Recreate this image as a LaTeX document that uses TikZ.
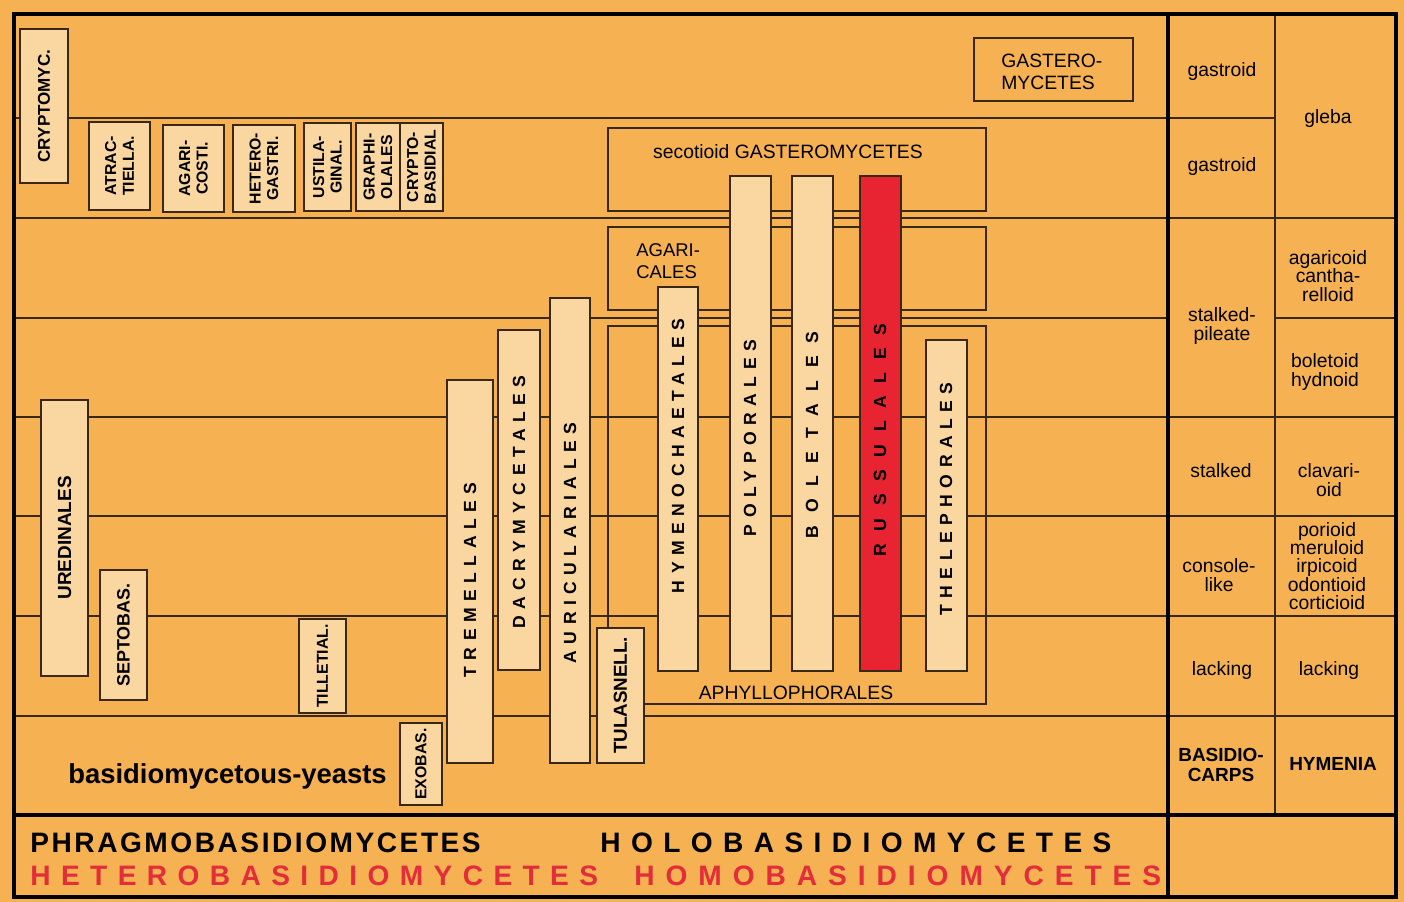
\documentclass[tikz,border=0pt]{standalone}
\usepackage{fontspec}
\setmainfont{Liberation Sans}
\usetikzlibrary{fit}
\definecolor{bg}{RGB}{246,177,82}
\definecolor{barc}{RGB}{250,214,160}
\definecolor{redc}{RGB}{232,36,50}
\definecolor{linec}{RGB}{58,40,22}
\definecolor{redtxt}{RGB}{226,46,58}
\begin{document}
\begin{tikzpicture}[x=0.02cm, y=0.02cm,
  rowline/.style={draw=linec, line width=0.9pt},
  heavy/.style={draw=black, line width=2.3pt},
  group/.style={draw=linec, line width=0.9pt, inner sep=0pt},
  bar/.style={draw=linec, line width=0.9pt, fill=barc, inner sep=0pt},
  redbar/.style={bar, fill=redc},
  vlab/.style={rotate=90, inner sep=0pt, font=\bfseries\fontsize{10}{10}\selectfont\addfontfeature{LetterSpace=37}},
  widelab/.style={vlab, font=\bfseries\fontsize{10}{10}\selectfont\addfontfeature{LetterSpace=72}},
  sbox/.style 2 args={bar, rotate=90, minimum width=#1*0.02cm, minimum height=#2*0.02cm, align=center, font=\bfseries\fontsize{9}{10}\selectfont},
  txt/.style={inner sep=0pt, align=center, font=\fontsize{11}{10.5}\selectfont},
  btxt/.style={txt, font=\bfseries\fontsize{10.8}{11}\selectfont},
  bigtxt/.style={inner sep=0pt, anchor=base west, font=\bfseries\fontsize{16}{16}\selectfont}]
\fill[bg] (0,0) rectangle (1404,-902);
\useasboundingbox (0,0) rectangle (1404,-902);

\draw[rowline] (14,-118) -- (1275,-118);
\draw[rowline] (14,-218) -- (1396,-218);
\draw[rowline] (14,-318) -- (1168,-318);
\draw[rowline] (1275,-318) -- (1396,-318);
\draw[rowline] (14,-417) -- (1396,-417);
\draw[rowline] (14,-516) -- (1396,-516);
\draw[rowline] (14,-616) -- (1396,-616);
\draw[rowline] (14,-716) -- (1396,-716);
\draw[rowline] (1275,-14) -- (1275,-815);

\draw[heavy] (14,-14) rectangle (1396,-897);
\draw[heavy] (1168,-14) -- (1168,-897);
\draw[heavy] (14,-815) -- (1396,-815);

\node[group, fit={(974,-38) (1133,-101)}] (gastero) {};
\node[txt, align=left, anchor=west, font=\fontsize{11}{12.5}\selectfont] (gastero-t) at (1001,-72) {GASTERO-\\MYCETES};
\node[group, fit={(608,-128) (986,-211)}] (secotioid) {};
\node[txt] (secotioid-t) at (788,-152) {secotioid GASTEROMYCETES};
\node[group, fit={(608,-227) (986,-310)}] (agaricales) {};
\node[txt, align=left, anchor=west, font=\fontsize{10.5}{12.5}\selectfont] (agaricales-t) at (636,-261) {AGARI-\\CALES};
\node[group, fit={(608,-326) (986,-704)}] (aphyllo) {};
\node[txt] (aphyllo-t) at (796,-693) {APHYLLOPHORALES};

\node[sbox={154}{48}, font=\bfseries\fontsize{9.7}{10}\selectfont] (cryptomyc) at (44,-106) {CRYPTOMYC.};
\node[sbox={88}{61}] (atrac) at (119.5,-166) {ATRAC-\\TIELLA.};
\node[sbox={87}{61}] (agaricosti) at (193.5,-168.5) {AGARI-\\COSTI.};
\node[sbox={87}{62}] (heterogastri) at (264,-168.5) {HETERO-\\GASTRI.};
\node[sbox={88}{47}] (ustilaginal) at (327.5,-167) {USTILA-\\GINAL.};
\node[sbox={88}{44}] (graphiolales) at (378,-167) {GRAPHI-\\OLALES};
\node[sbox={88}{43}] (cryptobasidial) at (421.5,-167) {CRYPTO-\\BASIDIAL};
\node[sbox={276}{47}, font=\bfseries\fontsize{10.8}{11}\selectfont] (uredinales) at (64.5,-538) {UREDINALES};
\node[sbox={130}{47}, font=\bfseries\fontsize{10.2}{11}\selectfont] (septobas) at (123.5,-635) {SEPTOBAS.};
\node[sbox={94}{47}] (tilletial) at (322.5,-666) {TILLETIAL.};
\node[sbox={82}{42}] (exobas) at (421,-764) {EXOBAS.};

\node[bar, fit={(447,-380) (493,-763)}] (tremellales) {};
\node[vlab] (tremellales-t) at (470,-580) {TREMELLALES};
\node[bar, fit={(498,-330) (540,-670)}] (dacrymycetales) {};
\node[vlab] (dacrymycetales-t) at (519,-502) {DACRYMYCETALES};
\node[bar, fit={(550,-298) (590,-763)}] (auriculariales) {};
\node[vlab] (auriculariales-t) at (570,-543) {AURICULARIALES};
\node[sbox={135}{47}, font=\bfseries\fontsize{10.7}{11}\selectfont] (tulasnell) at (620.5,-695.5) {TULASNELL.};
\node[bar, fit={(658,-287) (698,-671)}] (hymenochaetales) {};
\node[vlab] (hymenochaetales-t) at (678,-456) {HYMENOCHAETALES};
\node[bar, fit={(730,-176) (771,-671)}] (polyporales) {};
\node[vlab] (polyporales-t) at (750,-438) {POLYPORALES};
\node[bar, fit={(792,-176) (833,-671)}] (boletales) {};
\node[widelab] (boletales-t) at (812,-435) {BOLETALES};
\node[redbar, fit={(860,-176) (901,-671)}] (russulales) {};
\node[widelab] (russulales-t) at (880,-440) {RUSSULALES};
\node[bar, fit={(926,-340) (967,-671)}] (thelephorales) {};
\node[vlab] (thelephorales-t) at (946,-499) {THELEPHORALES};

\node[inner sep=0pt, anchor=base west, font=\bfseries\fontsize{15.6}{16}\selectfont] (yeasts) at (68,-783) {basidiomycetous-yeasts};

\node[txt] (gastroid1) at (1222,-72) {gastroid};
\node[txt] (gastroid2) at (1222,-167) {gastroid};
\node[txt] (gleba) at (1328,-119) {gleba};
\node[txt] (pileate) at (1222,-326) {stalked-\\pileate};
\node[txt] (agaricoid) at (1328,-276) {agaricoid\\cantha-\\relloid};
\node[txt] (boletoid) at (1325,-372) {boletoid\\hydnoid};
\node[txt] (stalked) at (1221,-471) {stalked};
\node[txt] (clavarioid) at (1329,-480) {clavari-\\oid};
\node[txt] (console) at (1219,-575) {console-\\like};
\node[txt] (porioid) at (1327,-566) {porioid\\meruloid\\irpicoid\\odontioid\\corticioid};
\node[txt] (lacking1) at (1222,-671) {lacking};
\node[txt] (lacking2) at (1329,-671) {lacking};
\node[btxt] (carps) at (1221,-765) {BASIDIO-\\CARPS};
\node[btxt] (hymenia) at (1333,-764) {HYMENIA};

\node[bigtxt, font=\bfseries\fontsize{16}{16}\selectfont\addfontfeature{LetterSpace=9}] (phragmo) at (30,-852) {PHRAGMOBASIDIOMYCETES};
\node[bigtxt, font=\bfseries\fontsize{16}{16}\selectfont\addfontfeature{LetterSpace=37}] (holo) at (600,-852) {HOLOBASIDIOMYCETES};
\node[bigtxt, text=redtxt, font=\bfseries\fontsize{16}{16}\selectfont\addfontfeature{LetterSpace=37}] (hetero) at (30,-885) {HETEROBASIDIOMYCETES};
\node[bigtxt, text=redtxt, font=\bfseries\fontsize{16}{16}\selectfont\addfontfeature{LetterSpace=39}] (homo) at (634,-885) {HOMOBASIDIOMYCETES};
\end{tikzpicture}
\end{document}
